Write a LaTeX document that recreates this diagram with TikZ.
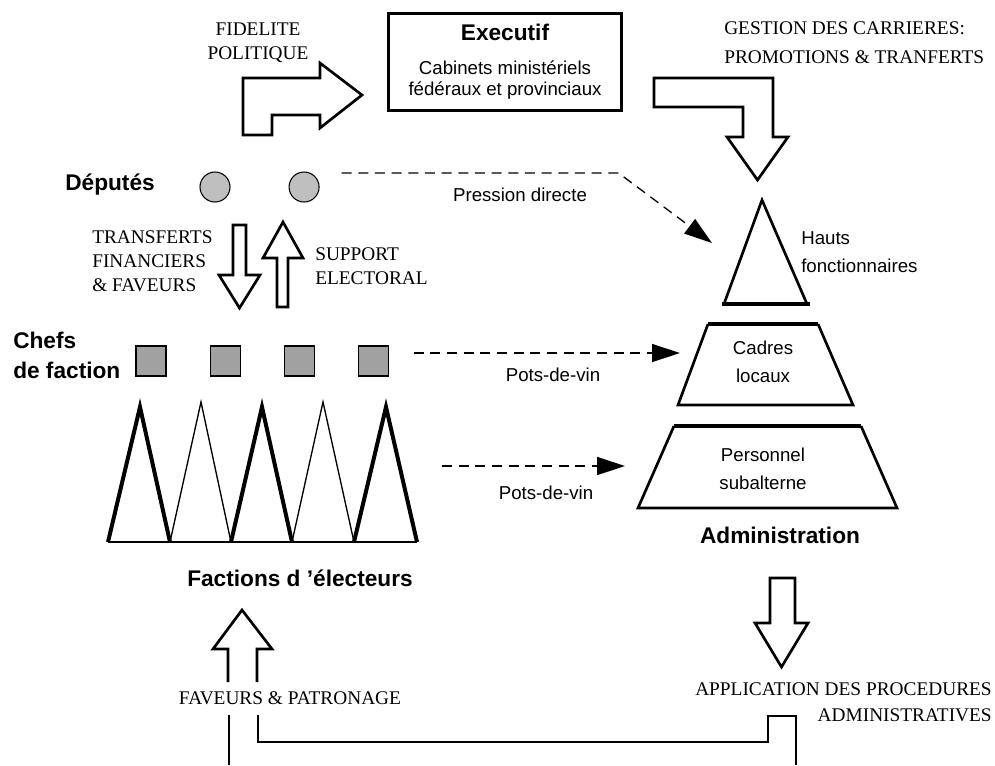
\documentclass[tikz,border=0pt]{standalone}
\usepackage{fontspec}
\setmainfont{Liberation Serif}
\setsansfont{Liberation Sans}
\usetikzlibrary{positioning,arrows.meta}

\begin{document}
\begin{tikzpicture}[x=0.75pt, y=-0.75pt,
                    roundnode/.style={circle, draw=black, fill=black!25, thick, minimum size=22.5pt, inner sep=0pt},
                    squarenode/.style={rectangle, draw=black, fill=black!37, thick, minimum size=22.5pt, inner sep=0pt},
                    boxnode/.style={rectangle, draw=black, line width=2.25pt, minimum width=174.75pt, minimum height=72.75pt, align=center, font=\sffamily\fontsize{14}{15.75}\selectfont},
                    bignode/.style={font=\sffamily\bfseries\fontsize{17}{22.5}\selectfont, inner sep=0pt},
                    labnode/.style={font=\sffamily\fontsize{14}{21}\selectfont, inner sep=0pt, align=center},
                    capnode/.style={font=\fontsize{14.5}{18}\selectfont, inner sep=0pt},
                    blockarrow/.style={line width=2pt, line join=miter},
                    level/.style={line width=2pt},
                    pressure/.style={dash pattern=on 7.5pt off 5pt, line width=1pt, -{Triangle[length=21pt,width=13.5pt]}}]
    \useasboundingbox (0,0) rectangle (995,765);
    % nodes
    \node[boxnode]      (exec)   at (505,62)     {{\bfseries\fontsize{17}{20}\selectfont Executif}\\[10pt]Cabinets ministériels\\fédéraux et provinciaux};
    \node[capnode, align=center]      (fid)    at (258,43)     {FIDELITE\\POLITIQUE};
    \node[capnode, align=left, anchor=west, font=\fontsize{14.5}{21.75}\selectfont]      (gest)   at (724,43)     {GESTION DES CARRIERES:\\PROMOTIONS \& TRANFERTS};
    \node[bignode]      (deplab) at (110,185)    {Députés};
    \node[roundnode]    (dep1)   at (215,187)    {};
    \node[roundnode]    (dep2)   [right=43.5pt of dep1]   {};
    \node[labnode]      (press)  at (520,195)    {Pression directe};
    \node[capnode, align=left, anchor=west]      (transf) at (92,261)     {TRANSFERTS\\FINANCIERS\\\& FAVEURS};
    \node[capnode, align=left, anchor=west]      (supp)   at (315,266)    {SUPPORT\\ELECTORAL};
    \node[bignode, align=left, anchor=west]      (chefs)  at (13,355)     {Chefs\\de faction};
    \node[squarenode]   (sq1)    at (151,361)    {};
    \node[squarenode]   (sq2)    [right=32.25pt of sq1]   {};
    \node[squarenode]   (sq3)    [right=32.25pt of sq2]   {};
    \node[squarenode]   (sq4)    [right=32.25pt of sq3]   {};
    \node[labnode]      (pots1)  at (553,375)    {Pots-de-vin};
    \node[labnode]      (pots2)  at (546,493)    {Pots-de-vin};
    \node[labnode, align=left, anchor=west]      (hauts)  at (801,252)    {Hauts\\fonctionnaires};
    \node[labnode]      (cadres) at (763,362)    {Cadres\\locaux};
    \node[labnode]      (pers)   at (763,469)    {Personnel\\subalterne};
    \node[bignode]      (admin)  at (780,535)    {Administration};
    \node[bignode]      (fact)   at (300,578)    {Factions d 'électeurs};
    \node[capnode]      (patr)   at (290,698)    {FAVEURS \& PATRONAGE};
    \node[capnode, align=right, anchor=east, font=\fontsize{14.5}{19.5}\selectfont]      (appl)   at (992,702)    {APPLICATION DES PROCEDURES\\ADMINISTRATIVES};
    \coordinate (hautsin)  at (712,243);
    \coordinate (cadresin) at (680,353);
    \coordinate (factout)  at (442,466);
    \coordinate (persin)   at (625,466);
    % block arrows
    \draw[blockarrow] (243,135) -- (243,78) -- (320,78) -- (320,63) -- (362,95) -- (320,128) -- (320,115) -- (272,115) -- (272,135) -- cycle;
    \draw[blockarrow] (654,78) -- (773,78) -- (773,137) -- (788,137) -- (757.5,180) -- (727,137) -- (743,137) -- (743,107) -- (654,107) -- cycle;
    \draw[blockarrow] (233,225) -- (246,225) -- (246,275) -- (260,275) -- (239.5,308) -- (219,275) -- (233,275) -- cycle;
    \draw[blockarrow] (277,307) -- (277,258) -- (263,258) -- (283,222) -- (303,258) -- (288,258) -- (288,307) -- cycle;
    \draw[blockarrow] (770,578) -- (795,578) -- (795,623) -- (808,623) -- (781.5,667) -- (755,623) -- (770,623) -- cycle;
    \draw[blockarrow] (228,682) -- (228,649) -- (213,649) -- (242,610) -- (272,649) -- (257,649) -- (257,682);
    \draw[blockarrow] (229,765) -- (229,715);
    \draw[blockarrow] (258,715) -- (258,742) -- (768,742) -- (768,716) -- (796,716) -- (796,765);
    % administration
    \draw[level] (724,304) -- (762,200) -- (807,304);
    \draw[line width=3pt] (722,304) -- (810,304);
    \draw[line width=3pt] (708,324) -- (818,324);
    \draw[level] (708,324) -- (678,405) -- (853,405) -- (818,324);
    \draw[line width=3pt] (674,426) -- (861,426);
    \draw[level] (674,426) -- (638,508) -- (897,508) -- (861,426);
    % factions
    \draw[line width=1pt] (170,542) -- (201,402) -- (231,542);
    \draw[line width=1pt] (292,542) -- (323,402) -- (354,542);
    \draw[line width=3pt, line join=miter] (108,542) -- (140,407) -- (170,542);
    \draw[line width=3pt, line join=miter] (231,542) -- (262,407) -- (292,542);
    \draw[line width=3pt, line join=miter] (354,542) -- (386,407) -- (417,542);
    \draw[line width=1.5pt] (108,542) -- (417,542);
    % dashed lines
    \draw[pressure] ([xshift=16.5pt,yshift=10.5pt]dep2.east) -- ++(277,0) -- (hautsin);
    \draw[pressure] ([xshift=18.75pt,yshift=6pt]sq4.east) -- (cadresin);
    \draw[pressure] (factout) -- (persin);
\end{tikzpicture}
\end{document}
